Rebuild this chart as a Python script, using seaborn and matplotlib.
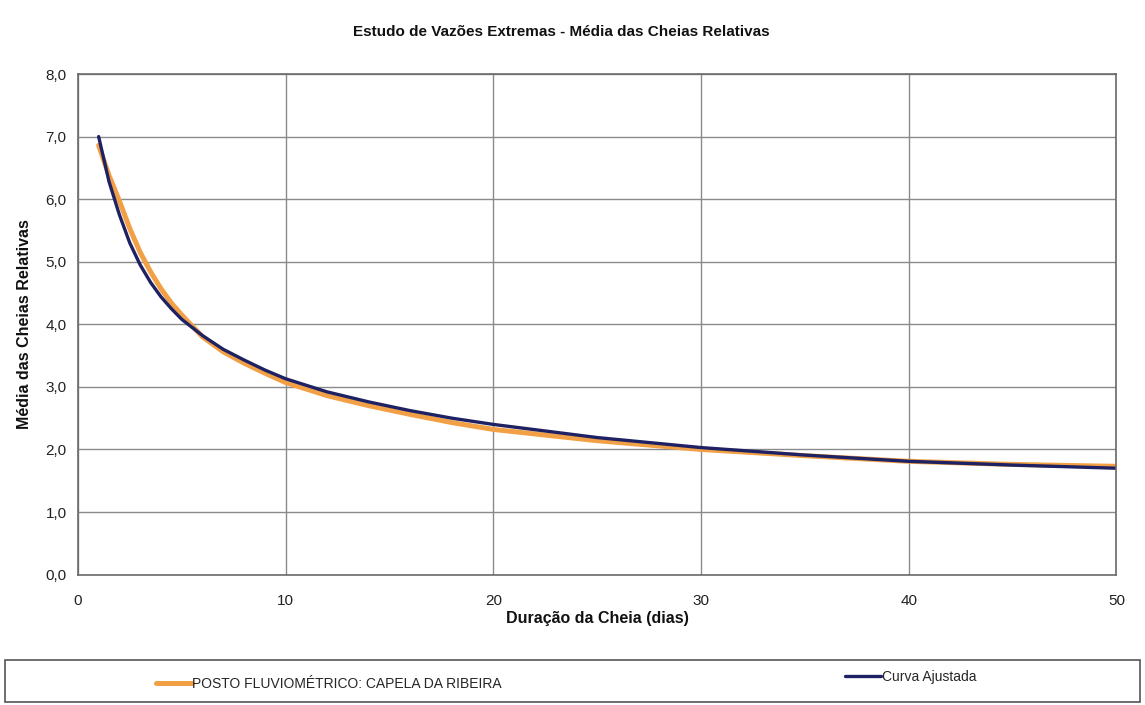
import matplotlib
matplotlib.use("Agg")
import matplotlib.pyplot as plt
import seaborn as sns
import pandas as pd
from matplotlib.ticker import FuncFormatter
from matplotlib.lines import Line2D
from matplotlib.patches import Rectangle

days = [1, 1.5, 2, 2.5, 3, 3.5, 4, 4.5, 5, 6, 7, 8, 9, 10, 12, 14, 16, 18, 20, 25, 30, 35, 40, 45, 50]
posto = [6.86, 6.38, 5.97, 5.53, 5.15, 4.84, 4.57, 4.34, 4.15, 3.80, 3.56, 3.38, 3.22, 3.07, 2.86, 2.70,
         2.56, 2.43, 2.32, 2.14, 2.00, 1.90, 1.81, 1.76, 1.73]
curva = [7.00, 6.28, 5.75, 5.30, 4.95, 4.67, 4.44, 4.25, 4.08, 3.82, 3.60, 3.43, 3.27, 3.13, 2.92, 2.76,
         2.62, 2.50, 2.40, 2.19, 2.03, 1.91, 1.81, 1.75, 1.70]
series_names = ["POSTO FLUVIOMÉTRICO: CAPELA DA RIBEIRA", "Curva Ajustada"]
series_colors = ["#F2A045", "#1E2163"]
x_ticks = [0, 10, 20, 30, 40, 50]
y_ticks = [0, 1, 2, 3, 4, 5, 6, 7, 8]

df = pd.concat([
    pd.DataFrame({"dias": days, "valor": posto, "serie": series_names[0]}),
    pd.DataFrame({"dias": days, "valor": curva, "serie": series_names[1]}),
])

sns.set_style("white")
plt.rcParams["font.family"] = ["Liberation Sans", "DejaVu Sans"]

fig = plt.figure(figsize=(11.45, 7.05), dpi=100)
ax = fig.add_axes([0.068, 0.185, 0.907, 0.71])

sns.lineplot(data=df, x="dias", y="valor", hue="serie", palette=dict(zip(series_names, series_colors)),
             ax=ax, legend=False, estimator=None, sort=False)
ax.lines[0].set_linewidth(3.6)
ax.lines[1].set_linewidth(2.4)
for ln in ax.lines:
    ln.set_solid_joinstyle("round")

ax.set_xlim(0, 50)
ax.set_ylim(0, 8)
ax.set_xticks(x_ticks)
ax.set_yticks(y_ticks)
ax.yaxis.set_major_formatter(FuncFormatter(lambda v, p: f"{v:.1f}".replace(".", ",")))
ax.grid(True, color="#8a8a8a", linewidth=1.0)
ax.set_axisbelow(True)
for s in ax.spines.values():
    s.set_color("#6a6a6a")
    s.set_linewidth(1.2)
ax.tick_params(axis="both", which="major", direction="out", length=5, width=1,
               color="#555555", labelsize=11, labelcolor="#222222")
ax.tick_params(axis="x", pad=9)
ax.tick_params(axis="y", pad=3)

ax.set_xlabel("Duração da Cheia (dias)", fontsize=11.5, fontweight="bold", labelpad=2, color="#111111")
ax.set_ylabel("Média das Cheias Relativas", fontsize=11.5, fontweight="bold", labelpad=10, color="#111111")
fig.suptitle("Estudo de Vazões Extremas - Média das Cheias Relativas", x=0.49, y=0.965,
             fontsize=11, fontweight="bold", color="#111111")

# legend box
fig.patches.append(Rectangle((0.004, 0.004), 0.992, 0.060, transform=fig.transFigure,
                             facecolor="white", edgecolor="#555555", linewidth=1.2))
h1 = [Line2D([0], [0], color=series_colors[0], linewidth=3.6)]
h2 = [Line2D([0], [0], color=series_colors[1], linewidth=2.4)]
fig.legend(h1, [series_names[0]], loc="center left", bbox_to_anchor=(0.125, 0.030),
           frameon=False, fontsize=10, handlelength=2.6, handletextpad=0.05)
fig.legend(h2, [series_names[1]], loc="center left", bbox_to_anchor=(0.727, 0.040),
           frameon=False, fontsize=10, handlelength=2.6, handletextpad=0.05)

fig.savefig("out.png", dpi=100)
